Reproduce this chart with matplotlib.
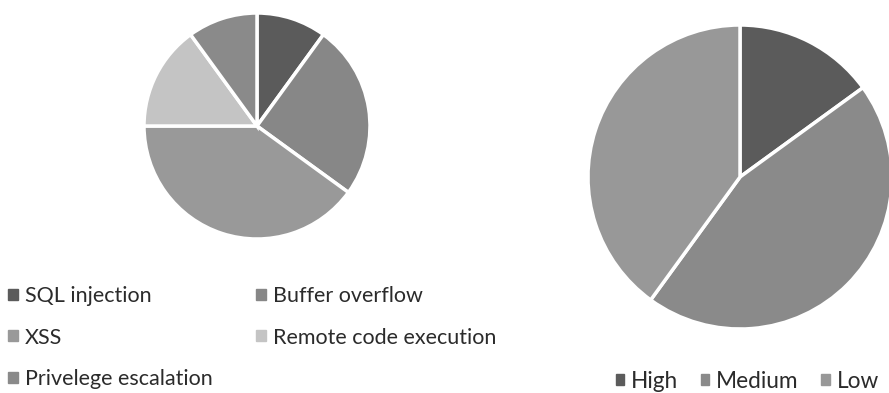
import matplotlib.pyplot as plt
from matplotlib.patches import Patch

# vulnerability types (left pie)
vuln_labels = ['SQL injection', 'Buffer overflow', 'XSS', 'Remote code execution', 'Privelege escalation']
vuln_values = [10, 25, 40, 15, 10]
vuln_colors = ['#5b5b5b', '#878787', '#999999', '#c4c4c4', '#8a8a8a']

# severity (right pie)
sev_labels = ['High', 'Medium', 'Low']
sev_values = [15, 45, 40]
sev_colors = ['#5b5b5b', '#8a8a8a', '#989898']

W, H = 889, 393
fig = plt.figure(figsize=(W / 100, H / 100), dpi=100)
plt.rcParams['font.family'] = ['Lato', 'DejaVu Sans']


def pie_axes(cx, cy, r):
    # place a square axes around a pixel centre (y from top)
    return fig.add_axes([(cx - r) / W, (H - cy - r) / H, 2 * r / W, 2 * r / H])


ax1 = pie_axes(257, 126, 113)
ax1.pie(vuln_values, colors=vuln_colors, startangle=90, counterclock=False,
        wedgeprops=dict(edgecolor='white', linewidth=2.5))
ax1.set_xlim(-1, 1)
ax1.set_ylim(-1, 1)
ax1.axis('off')

ax2 = pie_axes(740, 177, 152)
ax2.pie(sev_values, colors=sev_colors, startangle=90, counterclock=False,
        wedgeprops=dict(edgecolor='white', linewidth=2.5))
ax2.set_xlim(-1, 1)
ax2.set_ylim(-1, 1)
ax2.axis('off')

# legend filled column-wise, so reorder to read row-wise
handles = [Patch(color=c) for c in vuln_colors]
order = [0, 2, 4, 1, 3]
fig.legend([handles[i] for i in order], [vuln_labels[i] for i in order],
           ncol=2, loc='upper left', bbox_to_anchor=(8 / W, 1 - 286 / H),
           frameon=False, fontsize=15.5, handlelength=0.45, handleheight=0.4,
           handletextpad=0.35, columnspacing=2.0, labelspacing=1.0,
           borderpad=0, borderaxespad=0, labelcolor='#2b2b2b')

sev_handles = [Patch(color=c) for c in sev_colors]
fig.legend(sev_handles, sev_labels, ncol=3, loc='upper left',
           bbox_to_anchor=(616 / W, 1 - 371 / H), frameon=False, fontsize=16.3,
           handlelength=0.37, handleheight=0.37, handletextpad=0.3,
           columnspacing=1.0, borderpad=0, borderaxespad=0,
           labelcolor='#2b2b2b')

fig.savefig('out.png', dpi=100, facecolor='white')
